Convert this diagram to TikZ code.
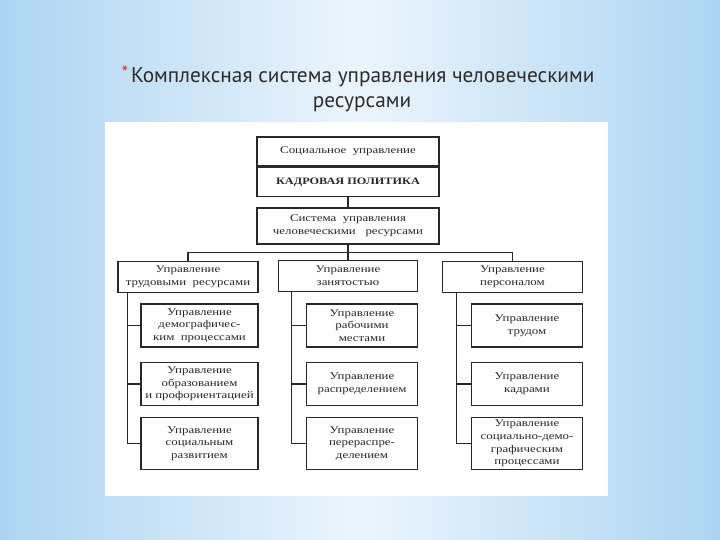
\documentclass[tikz,border=0pt]{standalone}
\usepackage{fontspec}
\setmainfont{Liberation Serif}
\newfontfamily\chartfont{Liberation Serif}[FakeStretch=1.25]
\newfontfamily\titlefont{PT Sans}
\usetikzlibrary{positioning}
\definecolor{slideblue}{RGB}{172,212,242}
\definecolor{slidepale}{RGB}{236,245,252}
\definecolor{inkgray}{RGB}{40,40,40}
\definecolor{titlegray}{RGB}{45,45,45}
\definecolor{starred}{RGB}{215,55,35}
\tikzset{
  link/.style={draw=inkgray, line width=1.1pt},
  headbox/.style={draw=inkgray, line width=1.5pt, fill=white, text=inkgray, minimum width=182pt, minimum height=29pt, inner sep=1pt, align=center, font=\chartfont\fontsize{10.3}{12.7}\selectfont},
  unitbox/.style={draw=inkgray, line width=1.5pt, fill=white, text=inkgray, minimum width=140pt, minimum height=31pt, inner sep=1pt, align=center, font=\chartfont\fontsize{10.3}{12.7}\selectfont},
  subbox/.style={draw=inkgray, line width=1.5pt, fill=white, text=inkgray, minimum width=111pt, minimum height=43pt, inner sep=1pt, align=center, font=\chartfont\fontsize{10.3}{12.7}\selectfont},
  slidetitle/.style={text=titlegray, align=center, font=\titlefont\fontsize{21.3}{25.6}\selectfont}
}

\begin{document}
\begin{tikzpicture}[x=1pt, y=-1pt]
  % slide background
  \useasboundingbox (0,0) rectangle (720,540);
  \shade[left color=slideblue, right color=slideblue, middle color=slidepale] (0,0) rectangle (720,540);
  \fill[white] (105,122) rectangle (608,496);

  \node[slidetitle] (title) at (358,89) {\raisebox{3pt}{\textcolor{starred}{\fontsize{19}{19}\selectfont*}}\hspace{3pt}Комплексная система управления человеческими\\\hspace{8pt}ресурсами};

  % top of the chart
  \node[headbox] (soc) at (348,151.5) {Социальное\ \ управление};
  \node[headbox, below=0pt of soc, font=\chartfont\bfseries\fontsize{9.8}{12}\selectfont] (pol) {КАДРОВАЯ ПОЛИТИКА};
  \node[headbox, minimum height=36pt] (sys) at (348,226) {Система\ \ управления\\человеческими\ \ \ ресурсами};

  % second level
  \node[unitbox] (lab) at (188,277) {Управление\\трудовыми\ \ ресурсами};
  \node[unitbox, minimum width=139pt] (emp) at (348,276) {Управление\\занятостью};
  \node[unitbox] (per) at (512.5,277) {Управление\\персоналом};

  % third level
  \node[subbox, minimum width=117pt] (lab1) at (199.5,325.5) {Управление\\демографичес-\\ким\ \ процессами};
  \node[subbox, minimum width=117pt] (lab2) at (199.5,384) {Управление\\образованием\\и профориентацией};
  \node[subbox, minimum width=117pt, minimum height=52pt] (lab3) at (199.5,443.5) {Управление\\социальным\\развитием};
  \node[subbox] (emp1) at (362,325.5) {Управление\\рабочими\\местами};
  \node[subbox] (emp2) at (362,384) {Управление\\распределением};
  \node[subbox, minimum height=52pt] (emp3) at (362,443.5) {Управление\\перераспре-\\делением};
  \node[subbox] (per1) at (527,325.5) {Управление\\трудом};
  \node[subbox] (per2) at (527,384) {Управление\\кадрами};
  \node[subbox, minimum height=52pt] (per3) at (527,443.5) {Управление\\социально-демо-\\графическим\\процессами};

  % connectors
  \draw[link] (pol) -- (sys);
  \draw[link] (sys) -- (emp);
  \draw[link] (lab.north) -- ++(0,-8) -| (per.north);
  \coordinate (labsp) at ([xshift=10.5pt]lab.south west);
  \coordinate (empsp) at ([xshift=14pt]emp.south west);
  \coordinate (persp) at ([xshift=14.5pt]per.south west);
  \foreach \g in {lab,emp,per} {
    \draw[link] (\g sp) |- (\g3.west);
    \draw[link] (\g sp |- \g1.west) -- (\g1.west);
    \draw[link] (\g sp |- \g2.west) -- (\g2.west);
  }
\end{tikzpicture}
\end{document}
